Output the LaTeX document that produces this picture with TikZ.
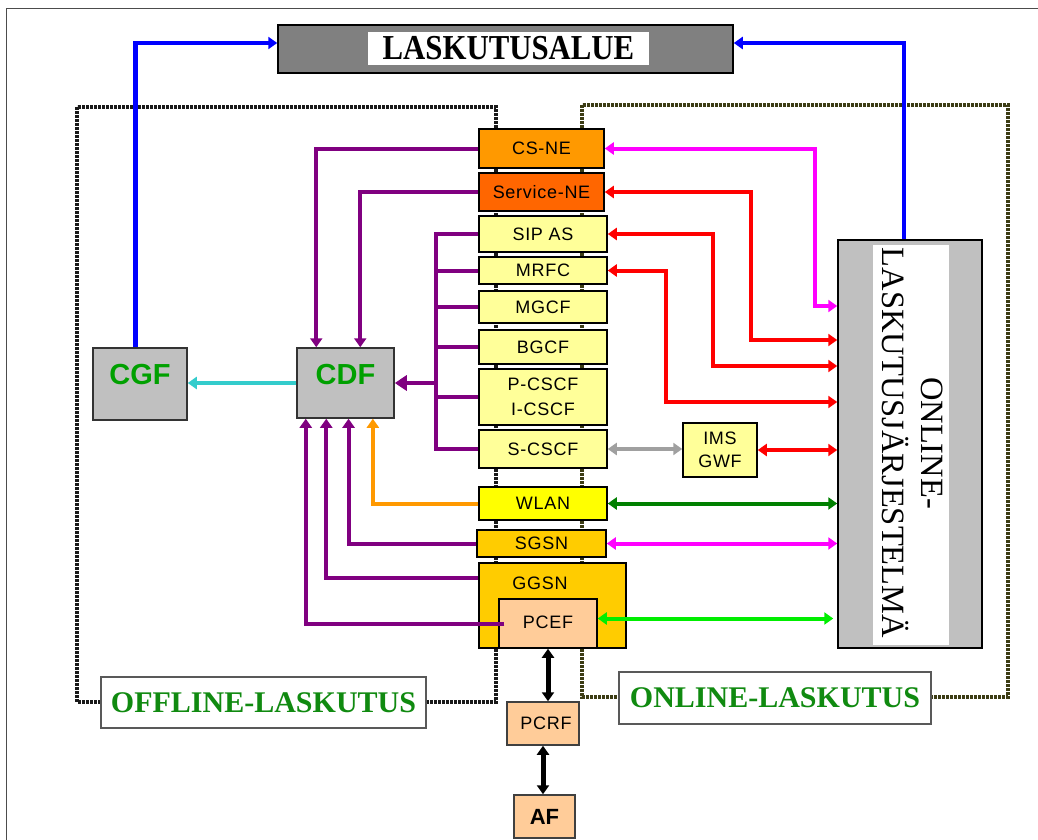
\documentclass[tikz,border=0pt]{standalone}
\usepackage{fontspec}
\usepackage{graphicx}
\setmainfont{Liberation Serif}
\newfontfamily\bx[LetterSpace=4]{Liberation Sans}
\newfontfamily\bxb{Liberation Sans}
\usetikzlibrary{arrows.meta,calc}
\definecolor{csnec}{HTML}{FF9900}
\definecolor{svnec}{HTML}{FF6600}
\definecolor{lyel}{HTML}{FFFF99}
\definecolor{wlanc}{HTML}{FFFF00}
\definecolor{gsnc}{HTML}{FFCC00}
\definecolor{peach}{HTML}{FFCC99}
\definecolor{lgray}{HTML}{C0C0C0}
\definecolor{mgray}{HTML}{808080}
\definecolor{purp}{HTML}{800080}
\definecolor{magc}{HTML}{FF00FF}
\definecolor{redc}{HTML}{FF0000}
\definecolor{cyanc}{HTML}{33CCCC}
\definecolor{grayc}{HTML}{A0A0A0}
\definecolor{dgreen}{HTML}{008000}
\definecolor{bgreen}{HTML}{00EE00}
\definecolor{bluec}{HTML}{0000FF}
\definecolor{olivec}{RGB}{60,60,20}
\definecolor{txtgreen}{HTML}{00A000}
\definecolor{lblgreen}{HTML}{108A10}
\begin{document}
\begin{tikzpicture}[x=1pt,y=-1pt,
  >={Triangle[length=9pt,width=12pt]},
  box/.style={draw=black, line width=1.5pt, inner sep=0pt, font=\bx\fontsize{18}{21}\selectfont},
  conn/.style={line width=4pt},
  pl/.style={conn, draw=purp, ->},
  dotoff/.style={draw=black!90, line width=4.5pt, dash pattern=on 2.8pt off 1.2pt},
  doton/.style={draw=olivec, line width=4.5pt, dash pattern=on 2.8pt off 1.2pt},
  lblbox/.style={draw=black!65, line width=1.6pt, fill=white, inner sep=0pt,
     font=\bfseries\fontsize{30}{34}\selectfont, text=lblgreen},
  bigtxt/.style={font=\bxb\bfseries\fontsize{29}{32}\selectfont, text=txtgreen}
]
\useasboundingbox (0,0) rectangle (1038,840);
\fill[white] (0,0) rectangle (1038,840);
% outer frame
\draw[line width=1.8pt, black!70] (6.5,850) -- (6.5,8.5) -- (1050,8.5);
% dotted areas
\draw[dotoff] (77,107) rectangle (496,702);
\draw[doton] (582,105) rectangle (1008,697);

% top billing domain
\node[box, fill=mgray, minimum width=455pt, minimum height=48pt] (lask) at (505.5,49) {};
\node[fill=white, inner sep=0pt, minimum width=281pt, minimum height=33pt,
      font=\bfseries\fontsize{35}{40}\selectfont] (laskt) at (508.5,48.5) {\scalebox{0.88}[1]{LASKUTUSALUE}};

% column of network elements
\node[box, fill=csnec, minimum width=125pt, minimum height=39pt] (csne) at (541.5,148.5) {CS-NE};
\node[box, fill=svnec, minimum width=125pt, minimum height=38pt] (svne) at (541.5,192) {Service-NE};
\node[box, fill=lyel, minimum width=128pt, minimum height=36pt] (sipas) at (543,234) {SIP AS};
\node[box, fill=lyel, minimum width=128pt, minimum height=27pt] (mrfc) at (543,270.5) {MRFC};
\node[box, fill=lyel, minimum width=128pt, minimum height=32pt] (mgcf) at (543,307) {MGCF};
\node[box, fill=lyel, minimum width=128pt, minimum height=34pt] (bgcf) at (543,347) {BGCF};
\node[box, fill=lyel, minimum width=128pt, minimum height=56pt, align=center,
      font=\bx\fontsize{18}{25}\selectfont] (pcscf) at (543,397) {P-CSCF\\I-CSCF};
\node[box, fill=lyel, minimum width=128pt, minimum height=38pt] (scscf) at (543,449) {S-CSCF};
\node[box, fill=wlanc, minimum width=128pt, minimum height=33pt] (wlan) at (543,503.5) {WLAN};
\node[box, fill=gsnc, minimum width=129pt, minimum height=27pt] (sgsn) at (541.5,543.5) {SGSN};
\node[box, fill=gsnc, minimum width=147pt, minimum height=85pt,
      label={[font=\bx\fontsize{18}{21}\selectfont, xshift=-12.5pt, yshift=22.5pt]center:GGSN}] (ggsn) at (552.5,605.5) {};
\node[box, fill=peach, minimum width=98pt, minimum height=49pt] (pcef) at (548,623.5) {\raisebox{3pt}{PCEF}};
\node[box, fill=peach, draw=black!75, minimum width=72pt, minimum height=43pt] (pcrf) at (543,723.5) {\hspace{6pt}\raisebox{-4pt}{PCRF}};
\node[box, fill=peach, draw=black!75, minimum width=61pt, minimum height=43pt,
      font=\bxb\bfseries\fontsize{22}{24}\selectfont] (af) at (544.5,816.5) {AF};
\node[box, fill=lyel, minimum width=74pt, minimum height=54pt, align=center,
      font=\bx\fontsize{18}{23}\selectfont] (ims) at (720,450) {IMS\\GWF};

% charging functions
\node[box, fill=lgray, draw=black!80, minimum width=94pt, minimum height=72pt,
      label={[bigtxt, yshift=9pt]center:CGF}] (cgf) at (140,384) {};
\node[box, fill=lgray, draw=black!80, minimum width=97pt, minimum height=70pt,
      label={[bigtxt, yshift=8pt]center:CDF}] (cdf) at (345.5,383) {};

% online charging system
\node[box, fill=lgray, minimum width=144pt, minimum height=408pt] (ocs) at (910,444) {};
\node[fill=white, inner sep=0pt, minimum width=76pt, minimum height=400pt] (ocsin) at (911,445) {};
\node[rotate=-90, align=center, inner sep=0pt, font=\fontsize{32.5}{39}\selectfont] (ocst) at (913,443) {ONLINE-\\LASKUTUSJÄRJESTELMÄ};

% label boxes
\node[lblbox, minimum width=325pt, minimum height=51pt] (offl) at (263.5,702.5) {OFFLINE-LASKUTUS};
\node[lblbox, minimum width=312pt, minimum height=52pt] (onl) at (775,698) {ONLINE-LASKUTUS};

% blue to billing domain
\draw[conn, line width=4.5pt, draw=bluec, ->] ([xshift=-4.3pt]cgf.north) |- ([yshift=6pt]lask.west);
\draw[conn, line width=4.5pt, draw=bluec, ->] ([xshift=-6pt]ocs.north) |- ([yshift=6pt]lask.east);

% purple offline connectors
\draw[pl] (csne.west) -| ([xshift=20pt]cdf.north west);
\draw[pl] (svne.west) -| ([xshift=64pt]cdf.north west);
\coordinate (bus) at (436,0);
\draw[conn, draw=purp] (sipas.west) -- (sipas.west -| bus) -- (scscf.west -| bus) -- (scscf.west);
\foreach \n in {mrfc,mgcf,bgcf,pcscf} \draw[conn, draw=purp] (\n.west) -- (\n.west -| bus);
\draw[conn, draw=purp, -{Triangle[length=12pt,width=15pt]}] (cdf.east -| bus) -- (cdf.east);
\draw[pl] ([xshift=6pt]pcef.west) -| ([xshift=9.5pt]cdf.south west);
\draw[pl] ([yshift=27.5pt]ggsn.west) -| ([xshift=30pt]cdf.south west);
\draw[pl] (sgsn.west) -| ([xshift=52.3pt]cdf.south west);
\draw[conn, draw=csnec, ->] (wlan.west) -| ([xshift=76.6pt]cdf.south west);
\draw[conn, line width=3.5pt, draw=cyanc, ->] (cdf.west) -- (cdf.west -| cgf.east);

% online connectors
\coordinate (m1) at (815,306);
\coordinate (r1) at (751,340);
\coordinate (r2) at (713,366);
\coordinate (r3) at (666,402);
\draw[conn, draw=magc, <->] (csne.east) -| (m1) -- (m1 -| ocs.west);
\draw[conn, draw=redc, <->] (svne.east) -| (r1) -- (r1 -| ocs.west);
\draw[conn, draw=redc, <->] (sipas.east) -| (r2) -- (r2 -| ocs.west);
\draw[conn, draw=redc, <->] (mrfc.east) -| (r3) -- (r3 -| ocs.west);
\draw[conn, line width=3.5pt, draw=grayc, <->] (scscf.east) -- (scscf.east -| ims.west);
\draw[conn, draw=redc, <->] (ims.east) -- (ims.east -| ocs.west);
\draw[conn, draw=dgreen, <->] (wlan.east) -- (wlan.east -| ocs.west);
\draw[conn, draw=magc, <->] (sgsn.east) -- (sgsn.east -| ocs.west);
\coordinate (g1) at ([yshift=5pt]pcef.east);
\draw[conn, draw=bgreen, <->] (g1) -- ($(g1 -| ocs.west)+(-4,0)$);
\draw[conn, line width=5pt, draw=black, <->] (pcef.south) -- (pcef.south |- pcrf.north);
\draw[conn, line width=5pt, draw=black, <->] (pcrf.south) -- (pcrf.south |- af.north);
\end{tikzpicture}
\end{document}
